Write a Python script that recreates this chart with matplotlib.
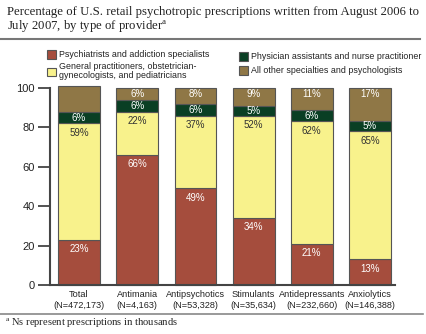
import matplotlib
matplotlib.use("Agg")
import matplotlib.pyplot as plt
from matplotlib.lines import Line2D
import numpy as np

categories = ["Total\n(N=472,173)", "Antimania\n(N=4,163)", "Antipsychotics\n(N=53,328)",
              "Stimulants\n(N=35,634)", "Antidepressants\n(N=232,660)", "Anxiolytics\n(N=146,388)"]
psychiatrists = [23, 66, 49, 34, 21, 13]
general = [59, 22, 37, 52, 62, 65]
physician_assist = [6, 6, 6, 5, 6, 5]
other = [13, 6, 8, 9, 11, 17]

# (legend label, values, fill, label colour, label offset below segment top in points; None = centred)
series = [
    ("Psychiatrists and addiction specialists", psychiatrists, "#A54D3D", "white", 6.8),
    ("General practitioners, obstetrician-\ngynecologists, and pediatricians", general, "#F8F28C", "#333333", 6.8),
    ("Physician assistants and nurse practitioner", physician_assist, "#0A3F24", "white", None),
    ("All other specialties and psychologists", other, "#8F7746", "white", 4.4),
]

plt.rcParams["font.family"] = ["Liberation Sans", "DejaVu Sans"]
plt.rcParams["mathtext.fontset"] = "custom"
plt.rcParams["mathtext.rm"] = "Liberation Serif"

W, H = 427, 334
fig = plt.figure(figsize=(W / 100, H / 100), dpi=100)
ax = fig.add_axes([50 / W, 1 - 285 / H, 345 / W, 197 / H])

x = np.arange(len(categories))
bottom = np.zeros(len(categories))
handles = []
for label, vals, color, tcolor, off in series:
    vals = np.array(vals, dtype=float)
    bars = ax.bar(x, vals, width=0.72, bottom=bottom, color=color,
                  edgecolor="#555555", linewidth=0.8, label=label, clip_on=False, zorder=2)
    handles.append(bars)
    for xi, b, v in zip(x, bottom, vals):
        if off is None:
            ax.text(xi, b + v / 2, f"{int(v)}%", ha="center", va="center",
                    color=tcolor, fontsize=7, zorder=3)
        else:
            ax.annotate(f"{int(v)}%", (xi, b + v), xytext=(0, -off), textcoords="offset points",
                        ha="center", va="center", color=tcolor, fontsize=7, zorder=3)
    bottom += vals

ax.set_xlim(-0.5, 5.43)
ax.set_ylim(0, 100)
ax.set_yticks([0, 20, 40, 60, 80, 100])
ax.set_xticks(x)
ax.set_xticklabels(categories, fontsize=6.6, color="#222222", linespacing=1.25)
ax.tick_params(axis="x", length=0, pad=3.5)
ax.tick_params(axis="y", length=9, width=1.3, color="#444444", labelsize=8, pad=2, labelcolor="#222222")
for s in ["top", "right"]:
    ax.spines[s].set_visible(False)
for s in ["left", "bottom"]:
    ax.spines[s].set_color("#444444")
    ax.spines[s].set_linewidth(1.5)

labels = [s[0] for s in series]
leg_kw = dict(loc="upper left", frameon=False, fontsize=6.4, handlelength=1.05,
              handleheight=1.1, handletextpad=0.3, borderpad=0, borderaxespad=0)
leg1 = fig.legend(handles=handles[:2], labels=labels[:2], bbox_to_anchor=(47 / W, 1 - 50 / H),
                  labelspacing=0.35, **leg_kw)
leg2 = fig.legend(handles=handles[2:], labels=labels[2:], bbox_to_anchor=(239 / W, 1 - 52 / H),
                  labelspacing=0.55, **leg_kw)
for lg in (leg1, leg2):
    for t in lg.get_texts():
        t.set_color("#222222")
        t.set_linespacing(1.0)

fig.text(7 / W, 1 - 6 / H, "Percentage of U.S. retail psychotropic prescriptions written from August 2006 to\n"
         "July 2007, by type of provider$^{\\mathrm{a}}$",
         ha="left", va="top", fontsize=9.2, family="Liberation Serif", color="#222222", linespacing=1.05)
fig.add_artist(Line2D([0.0, 420 / W], [1 - 39 / H, 1 - 39 / H], color="#777777", linewidth=1.5,
                      transform=fig.transFigure))
fig.add_artist(Line2D([0.0, 423 / W], [1 - 314 / H, 1 - 314 / H], color="#888888", linewidth=1.2,
                      transform=fig.transFigure))
fig.text(5 / W, 1 - 323 / H, "$^{\\mathrm{a}}$ Ns represent prescriptions in thousands",
         ha="left", va="center", fontsize=7.6, family="Liberation Serif", color="#222222")

fig.savefig("out.png", dpi=100, facecolor="white")
